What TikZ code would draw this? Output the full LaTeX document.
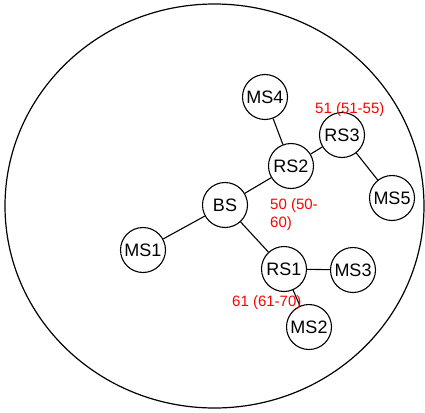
\documentclass[tikz,border=0pt]{standalone}
\usepackage{fontspec}
\setmainfont{Liberation Sans}
\begin{document}
\begin{tikzpicture}[x=1pt,y=-1pt,
  station/.style={draw,circle,line width=1.1pt,minimum size=45pt,inner sep=0pt,font=\fontsize{18}{20}\selectfont},
  link/.style={line width=1.1pt},
  rate/.style={text=red,font=\fontsize{15}{18}\selectfont,inner sep=0pt,anchor=base west,align=left}]
\useasboundingbox (0,0) rectangle (425,412);
\draw[line width=1.2pt] (214.5,206) ellipse [x radius=209.5, y radius=202];
\node[station] (MS4) at (265,97) {MS4};
\node[station] (RS3) at (342,135) {RS3};
\node[station] (RS2) at (291,166) {RS2};
\node[station] (MS5) at (392,198) {MS5};
\node[station] (BS) at (225,205) {BS};
\node[station] (MS1) at (143,250) {MS1};
\node[station] (RS1) at (284,269) {RS1};
\node[station] (MS3) at (353,270) {MS3};
\node[station] (MS2) at (309,327) {MS2};
\draw[link] (MS4) -- (RS2);
\draw[link] (RS2) -- (RS3);
\draw[link] (RS3) -- (MS5);
\draw[link] (RS2) -- (BS);
\draw[link] (BS) -- (MS1);
\draw[link] (BS) -- (RS1);
\draw[link] (RS1) -- (MS3);
\draw[link] (RS1) -- (MS2);
\node[rate] (L3) at (315,113) {51 (51-55)};
\node[rate] (L2) at (270,227) {50 (50-\\60)};
\node[rate] (L1) at (232,306) {61 (61-70)};
\end{tikzpicture}
\end{document}
